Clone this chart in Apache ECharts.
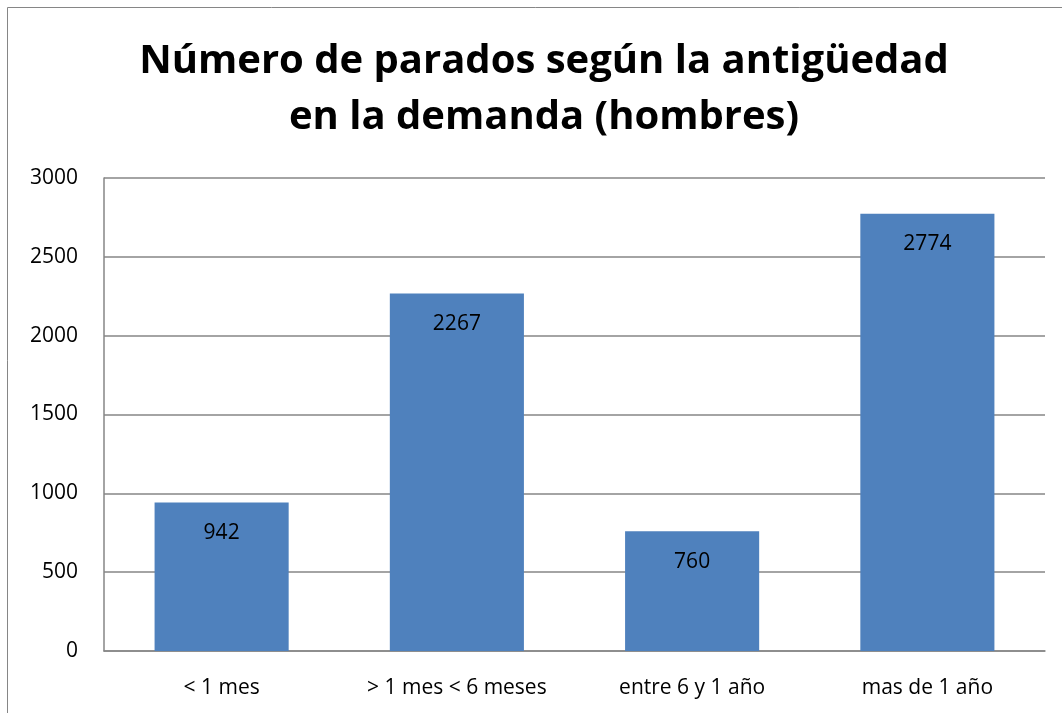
<!DOCTYPE html>
<html>
<head>
<meta charset="utf-8">
<script src="https://cdn.jsdelivr.net/npm/echarts@6/dist/echarts.min.js"></script>
<style>html,body{margin:0;padding:0;background:#fff;}#c{width:1062px;height:713px;}</style>
</head>
<body>
<div id="c"></div>
<script>
const titleText = 'Número de parados según la antigüedad\nen la demanda (hombres)';
const categories = ['< 1 mes', '> 1 mes < 6 meses', 'entre 6 y 1 año', 'mas de 1 año'];
const values = [942, 2267, 760, 2774];
const yTicks = [0, 500, 1000, 1500, 2000, 2500, 3000];

const chart = echarts.init(document.getElementById('c'), null, {renderer: 'canvas'});
const font = 'Open Sans';
chart.setOption({
  animation: false,
  backgroundColor: '#fff',
  graphic: [{
    type: 'rect', silent: true,
    shape: {x: 7.5, y: 7.5, width: 1200, height: 900},
    style: {fill: 'none', stroke: '#868686', lineWidth: 1}
  }],
  title: {
    text: titleText,
    left: 539, top: 29, textAlign: 'center',
    textStyle: {fontFamily: font, fontWeight: 'bold', fontSize: 40, lineHeight: 56, color: '#000'}
  },
  grid: {left: 104, right: 17, top: 178, bottom: 62, containLabel: false},
  xAxis: {
    type: 'category', data: categories,
    axisLine: {lineStyle: {color: '#868686', width: 1.5}},
    axisTick: {show: false},
    axisLabel: {fontFamily: font, fontSize: 21, color: '#000', margin: 27}
  },
  yAxis: {
    type: 'value', min: yTicks[0], max: yTicks[yTicks.length - 1], interval: yTicks[1] - yTicks[0],
    axisLine: {show: true, lineStyle: {color: '#868686', width: 1.5}},
    axisTick: {show: false},
    splitLine: {lineStyle: {color: '#868686', width: 1.5}},
    axisLabel: {fontFamily: font, fontSize: 21, color: '#000', margin: 26, formatter: v => String(v)}
  },
  series: [{
    type: 'bar', data: values, barWidth: '57%',
    itemStyle: {color: '#4F81BD'},
    label: {show: true, position: 'insideTop', distance: 20, fontFamily: font, fontSize: 21, color: '#000'}
  }]
});
</script>
</body>
</html>
